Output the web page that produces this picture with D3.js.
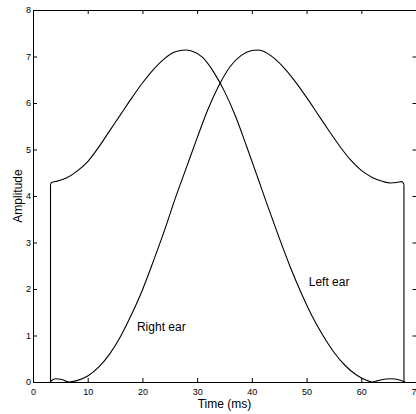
<!DOCTYPE html>
<html>
<head>
<meta charset="utf-8">
<script src="https://cdn.jsdelivr.net/npm/d3@7"></script>
<style>
  body { margin: 0; background: #fff; }
  svg text { font-family: "Liberation Sans", Arial, Helvetica, sans-serif; }
</style>
</head>
<body>
<div id="main"></div>
<script>
const margin = {top: 10, right: 0, bottom: 32, left: 33};
const w = 416;
const h = 414;

// readings: [time (ms), amplitude]
const rightEar = [
  [3.2,0],[3.6,0.05],[4.2,0.07],[5.0,0.06],[5.8,0.03],[6.6,0],[8,0.03],[10,0.13],
  [12,0.32],[14,0.6],[16,0.98],[18,1.45],[20,1.98],[22,2.6],[24,3.25],[26,3.95],
  [28,4.6],[30,5.25],[32,5.87],[34,6.38],[36,6.78],[38,7.02],[40,7.13],[41,7.14],
  [42,7.12],[44,6.97],[46,6.74],[48,6.45],[50,6.12],[52,5.77],[54,5.42],[56,5.08],
  [58,4.78],[60,4.55],[62,4.4],[64,4.31],[65.3,4.28],[66.5,4.29],[67.4,4.31],
  [67.8,4.25],[67.8,0]
];

const leftEar = [
  [3.2,0],[3.2,4.25],[3.4,4.29],[4.5,4.32],[6,4.38],[8,4.53],[10,4.74],[12,5.05],
  [14,5.4],[16,5.75],[18,6.1],[20,6.43],[22,6.72],[24,6.95],[26,7.1],[27.8,7.14],
  [29,7.12],[31,6.98],[33,6.67],[35,6.25],[37,5.72],[39,5.08],[41,4.42],[43,3.75],
  [45,3.1],[47,2.48],[49,1.92],[51,1.42],[53,1],[55,0.64],[57,0.36],[59,0.16],
  [60.5,0.06],[62,0],[63,0.03],[64.5,0.065],[65.6,0.07],[66.8,0.05],[68,0]
];

const xTicks = [0,10,20,30,40,50,60,70];
const yTicks = [0,1,2,3,4,5,6,7,8];

const curveLabels = [
  {text: 'Right ear', t: 19, a: 1.1},
  {text: 'Left ear', t: 50.4, a: 2.06}
];

const svg = d3.select('#main')
              .append('svg')
              .attr('width', w)
              .attr('height', h)
              .style('display', 'block');

const x = d3.scaleLinear()
            .domain([0, 70])
            .range([margin.left, 416]);

const y = d3.scaleLinear()
            .domain([0, 8])
            .range([h - margin.bottom, margin.top]);

// axes, ticks pointing inward like the original
svg.append('g')
   .attr('transform', 'translate(0,' + y(0) + ')')
   .call(d3.axisBottom(x).tickValues(xTicks).tickSizeInner(-4).tickSizeOuter(0).tickPadding(7))
   .call(g => g.selectAll('text').attr('font-size', '9px').attr('fill', '#000'));

svg.append('g')
   .attr('transform', 'translate(0,' + y(8) + ')')
   .call(d3.axisTop(x).tickValues(xTicks).tickSizeInner(-4).tickSizeOuter(0).tickFormat(''));

svg.append('g')
   .attr('transform', 'translate(' + x(0) + ',0)')
   .call(d3.axisLeft(y).tickValues(yTicks).tickSizeInner(-4).tickSizeOuter(0).tickPadding(2))
   .call(g => g.selectAll('text').attr('font-size', '9px').attr('fill', '#000'));

// right edge sits just off the picture, only its ticks show
svg.append('g')
   .attr('transform', 'translate(' + (x(70) + 0.5) + ',0)')
   .call(d3.axisRight(y).tickValues(yTicks).tickSizeInner(-4).tickSizeOuter(0).tickFormat(''));

svg.selectAll('.domain').attr('stroke', '#000');
svg.selectAll('.tick line').attr('stroke', '#000');

const smooth = d3.line()
                 .x(d => x(d[0]))
                 .y(d => y(d[1]))
                 .curve(d3.curveMonotoneX);

const straight = d3.line()
                   .x(d => x(d[0]))
                   .y(d => y(d[1]));

// split a series where it jumps straight up/down (same time twice)
function pieces(data) {
  let runs = [[data[0]]];
  let steps = [];
  for (let i = 1; i < data.length; i++) {
    if (data[i][0] === data[i - 1][0]) {
      steps.push([data[i - 1], data[i]]);
      runs.push([data[i]]);
    } else {
      runs[runs.length - 1].push(data[i]);
    }
  }
  return runs.filter(r => r.length > 1).map(r => smooth(r))
             .concat(steps.map(s => straight(s)));
}

[rightEar, leftEar].forEach(series => {
  svg.append('path')
     .attr('class', 'ear')
     .attr('d', pieces(series).join(''))
     .attr('fill', 'none')
     .attr('stroke', '#000')
     .attr('stroke-width', 1.1)
     .attr('stroke-linejoin', 'round');
});

svg.selectAll('text.curve-label')
   .data(curveLabels)
   .enter()
   .append('text')
   .attr('class', 'curve-label')
   .attr('x', d => x(d.t))
   .attr('y', d => y(d.a))
   .attr('font-size', '12px')
   .text(d => d.text);

svg.append('text')
   .attr('x', (x(0) + x(70)) / 2)
   .attr('y', 408)
   .attr('text-anchor', 'middle')
   .attr('font-size', '12px')
   .text('Time (ms)');

svg.append('text')
   .attr('transform', 'translate(22,' + (y(0) + y(8)) / 2 + ') rotate(-90)')
   .attr('text-anchor', 'middle')
   .attr('font-size', '12px')
   .text('Amplitude');
</script>
</body>
</html>
